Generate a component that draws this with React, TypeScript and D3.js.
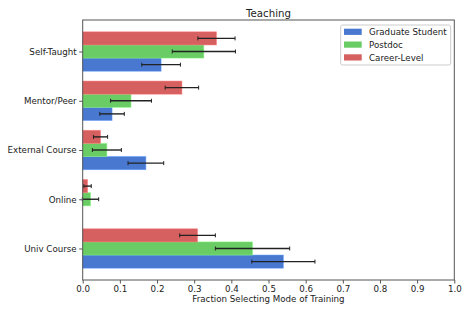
import { useRef, useEffect } from "react";
import * as d3 from "d3";

const WIDTH = 471;
const HEIGHT = 314;
const LEFT = 82.7;
const RIGHT = 454.3;
const TOP = 20;
const BOTTOM = 280;

// bottom to top
const CATEGORIES = ["Univ Course", "Online", "External Course", "Mentor/Peer", "Self-Taught"];
const SERIES = ["Graduate Student", "Postdoc", "Career-Level"];
const COLORS = ["#4878d0", "#6acc64", "#d65f5f"];

const GRAD = [0.54, 0.0, 0.17, 0.079, 0.211];
const GRAD_ERR = [0.085, 0.0, 0.048, 0.033, 0.052];
const POSTDOC = [0.457, 0.021, 0.065, 0.13, 0.326];
const POSTDOC_ERR = [0.1, 0.022, 0.039, 0.055, 0.085];
const CAREER = [0.309, 0.013, 0.048, 0.267, 0.36];
const CAREER_ERR = [0.048, 0.01, 0.019, 0.045, 0.05];

const X_TICKS = [0, 0.1, 0.2, 0.3, 0.4, 0.5, 0.6, 0.7, 0.8, 0.9, 1.0];

const FONT = "DejaVu Sans, sans-serif";
const FS = 8.7;

export default function App() {
  const svgRef = useRef<SVGSVGElement>(null);

  useEffect(() => {
    const svg = d3.select(svgRef.current);
    svg.selectAll("*").remove();

    const x = d3.scaleLinear([0, 1], [LEFT, RIGHT]);
    const y = d3.scaleLinear([-0.64, 4.64], [BOTTOM, TOP]);
    const h = 0.8 / 3;

    const values = [GRAD, POSTDOC, CAREER];
    const errs = [GRAD_ERR, POSTDOC_ERR, CAREER_ERR];

    const g = svg.append("g");

    values.forEach((vals, s) => {
      const off = (s - 1) * h;
      g.append("g")
        .selectAll("rect")
        .data(vals)
        .join("rect")
        .attr("x", x(0))
        .attr("y", (_d, i) => y(i + off + h / 2))
        .attr("width", d => x(d) - x(0))
        .attr("height", y(0) - y(h))
        .attr("fill", COLORS[s])
        .attr("stroke", d3.color(COLORS[s])!.brighter(0.6).formatHex())
        .attr("stroke-width", 0.8)
        .attr("stroke-opacity", 0.6);
    });

    values.forEach((vals, s) => {
      const off = (s - 1) * h;
      const eg = g.append("g").attr("stroke", "#222").attr("stroke-width", 1.4);
      vals.forEach((v, i) => {
        const e = errs[s][i];
        if (e <= 0) return;
        const cy = y(i + off);
        const x1 = x(v - e);
        const x2 = x(v + e);
        eg.append("line").attr("x1", x1).attr("x2", x2).attr("y1", cy).attr("y2", cy);
        eg.append("line").attr("x1", x1).attr("x2", x1).attr("y1", cy - 2).attr("y2", cy + 2).attr("stroke-width", 1);
        eg.append("line").attr("x1", x2).attr("x2", x2).attr("y1", cy - 2).attr("y2", cy + 2).attr("stroke-width", 1);
      });
    });

    // frame
    svg.append("rect")
      .attr("x", LEFT)
      .attr("y", TOP)
      .attr("width", RIGHT - LEFT)
      .attr("height", BOTTOM - TOP)
      .attr("fill", "none")
      .attr("stroke", "#555")
      .attr("stroke-width", 1);

    const xAxis = svg.append("g")
      .attr("transform", `translate(0, ${BOTTOM})`)
      .call(d3.axisBottom(x).tickValues(X_TICKS).tickFormat(d3.format(".1f")).tickSize(3.5).tickPadding(2.5));
    xAxis.select(".domain").remove();

    const yAxis = svg.append("g")
      .attr("transform", `translate(${LEFT}, 0)`)
      .call(d3.axisLeft(y).tickValues(d3.range(CATEGORIES.length)).tickFormat((_d, i) => CATEGORIES[i]).tickSize(3.5).tickPadding(2.5));
    yAxis.select(".domain").remove();

    svg.selectAll(".tick line").attr("stroke", "#555");
    svg.selectAll(".tick text")
      .attr("fill", "#222")
      .attr("font-family", FONT)
      .attr("font-size", FS);

    svg.append("text")
      .attr("x", (LEFT + RIGHT) / 2)
      .attr("y", 17)
      .attr("text-anchor", "middle")
      .attr("font-family", FONT)
      .attr("font-size", 10.2)
      .attr("fill", "#222")
      .text("Teaching");

    svg.append("text")
      .attr("x", (LEFT + RIGHT) / 2)
      .attr("y", 301.5)
      .attr("text-anchor", "middle")
      .attr("font-family", FONT)
      .attr("font-size", FS)
      .attr("fill", "#222")
      .text("Fraction Selecting Mode of Training");

    // legend
    const lg = svg.append("g").attr("transform", "translate(340.7, 25)");
    lg.append("rect")
      .attr("width", 110)
      .attr("height", 40)
      .attr("rx", 2)
      .attr("fill", "white")
      .attr("fill-opacity", 0.8)
      .attr("stroke", "#ccc")
      .attr("stroke-width", 1);
    SERIES.forEach((name, i) => {
      const ly = 6.7 + i * 12.8;
      lg.append("rect")
        .attr("x", 3.3)
        .attr("y", ly - 3)
        .attr("width", 17.7)
        .attr("height", 6.2)
        .attr("fill", COLORS[i]);
      lg.append("text")
        .attr("x", 28.3)
        .attr("y", ly + 3.2)
        .attr("font-family", FONT)
        .attr("font-size", FS)
        .attr("fill", "#222")
        .text(name);
    });
  }, []);

  return (
    <svg ref={svgRef} width={WIDTH} height={HEIGHT} style={{ position: "absolute", left: 0, top: 0, background: "white" }} />
  );
}
